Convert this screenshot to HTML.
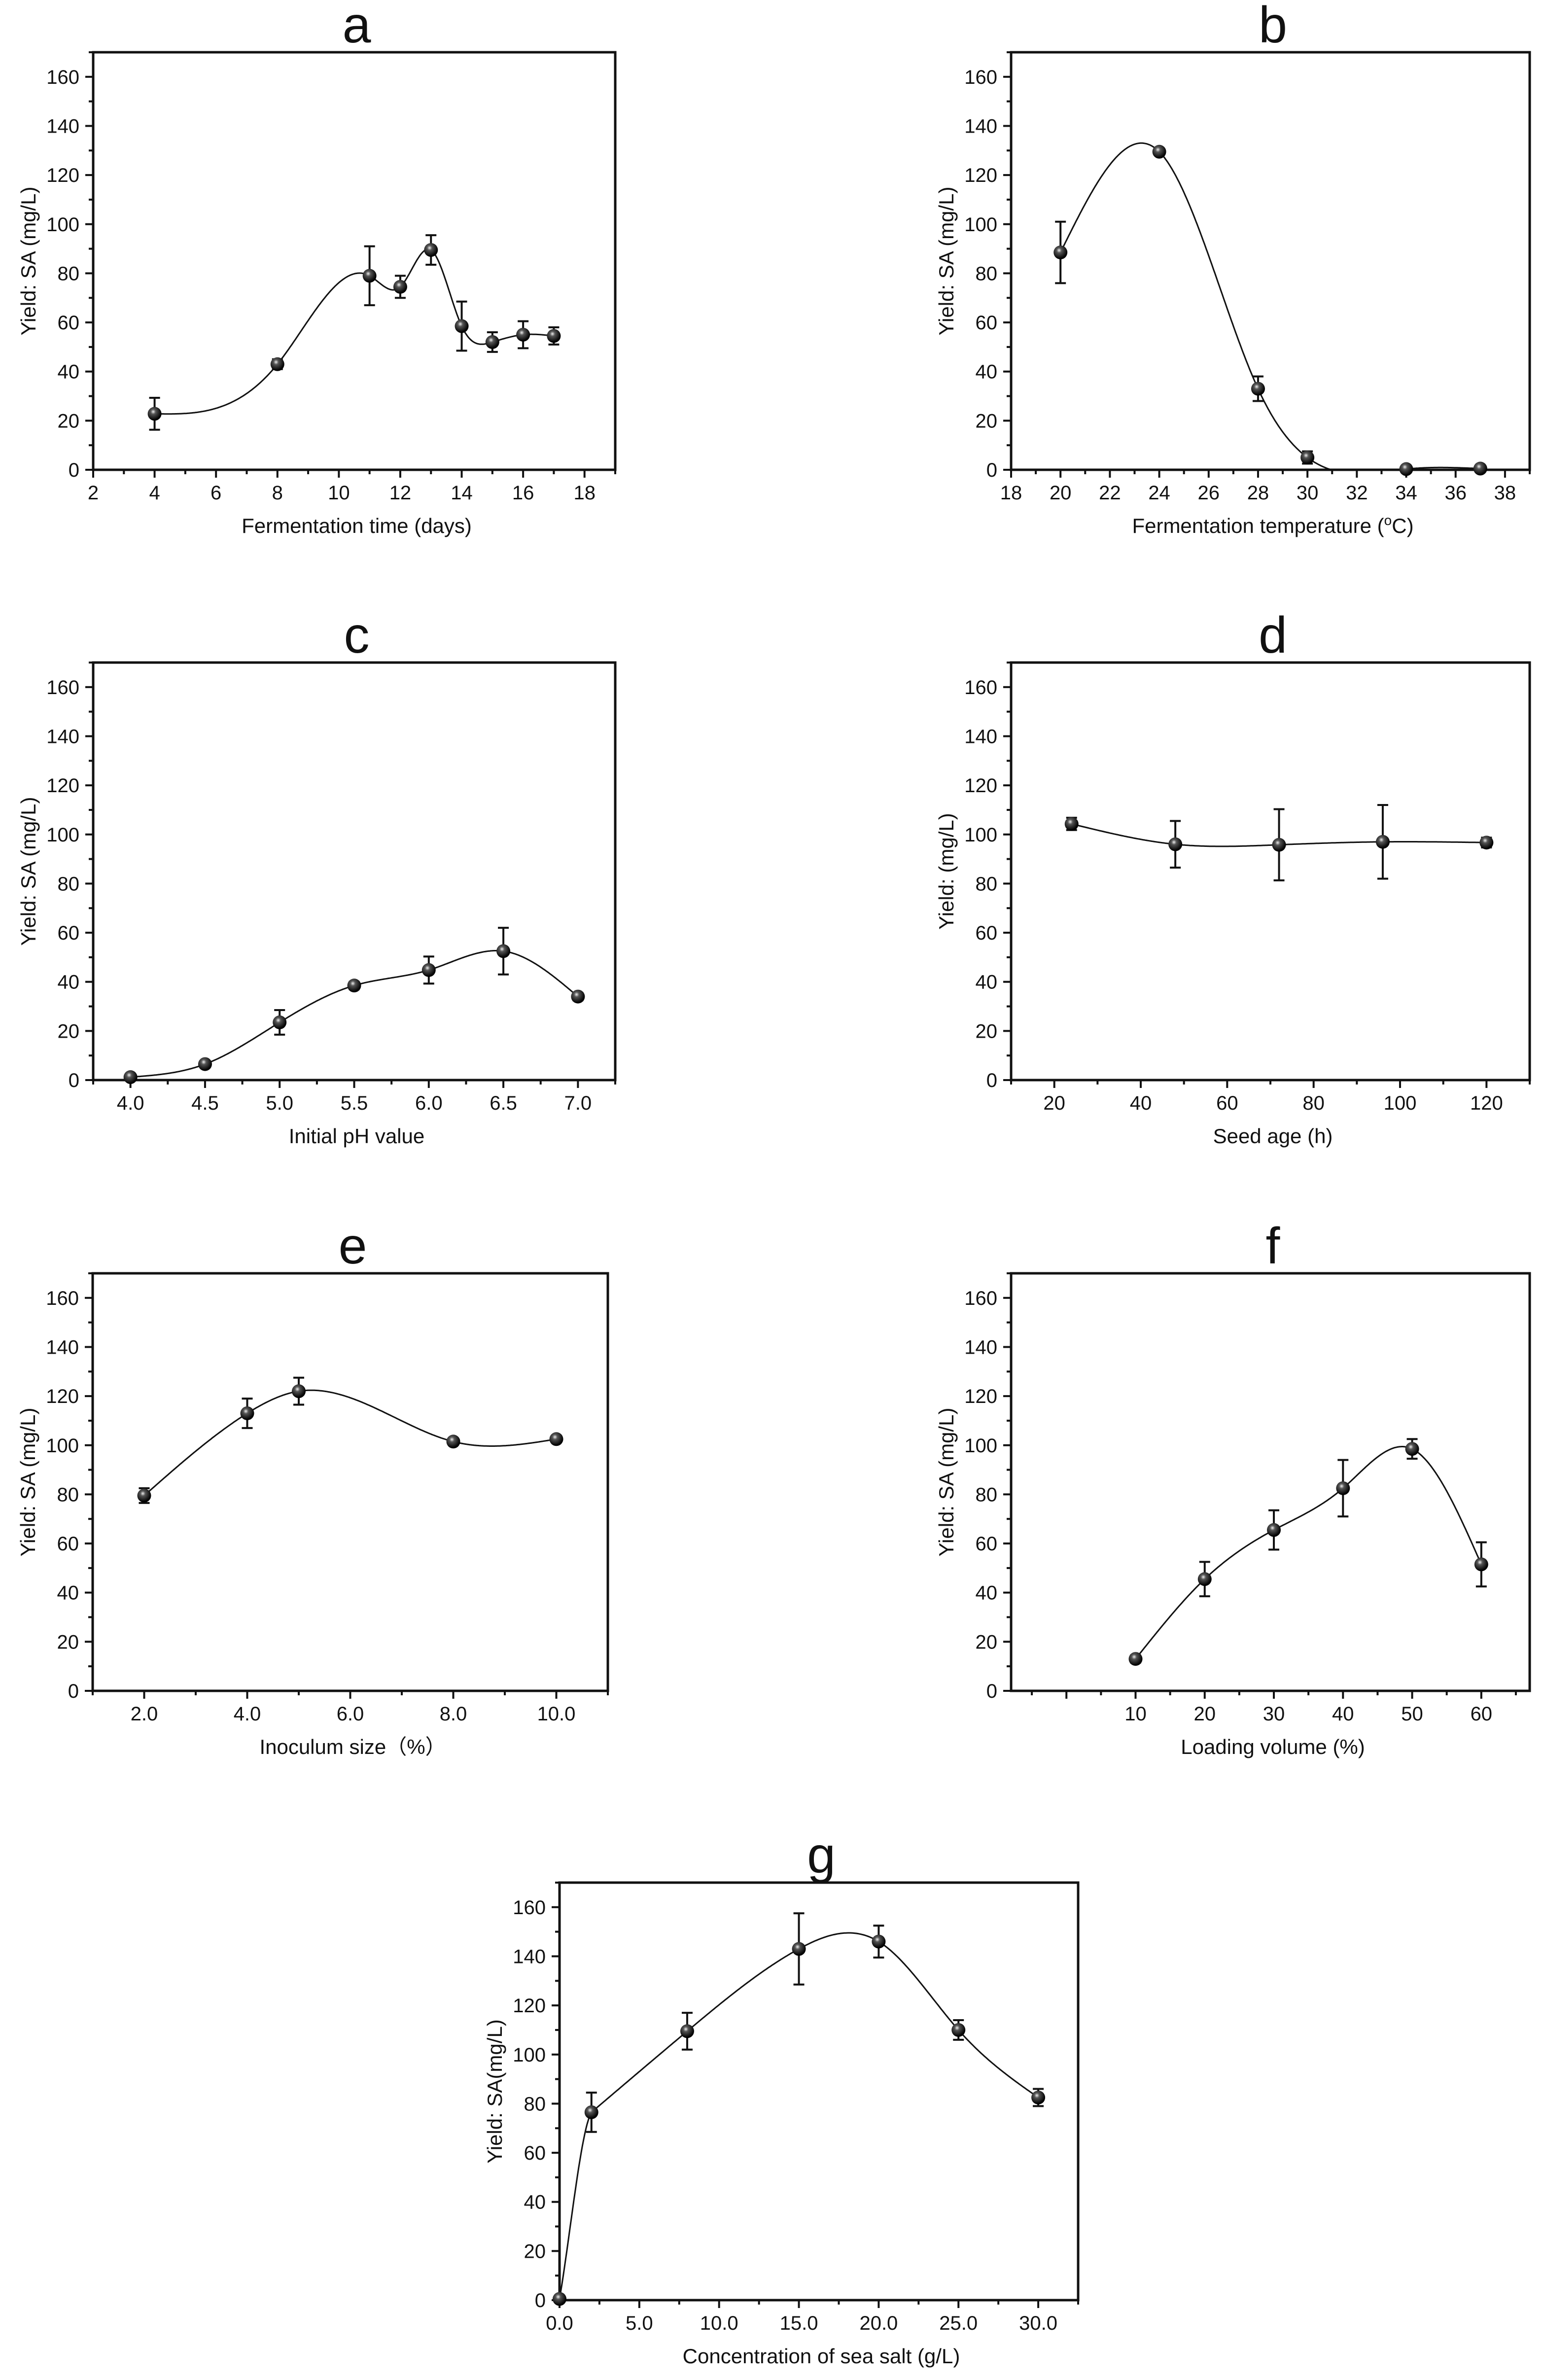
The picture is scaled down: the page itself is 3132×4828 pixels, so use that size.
<!DOCTYPE html>
<html><head><meta charset="utf-8"><style>
html,body{margin:0;padding:0;background:#fff}
svg{display:block}
text{font-family:"Liberation Sans",Arial,sans-serif;fill:#111}
</style></head><body>
<svg id="fig" width="3132" height="4828" viewBox="0 0 3132 4828" xmlns="http://www.w3.org/2000/svg">
<defs>
<radialGradient id="ball" cx="0.4" cy="0.35" r="0.6">
<stop offset="0" stop-color="#eee"/><stop offset="0.3" stop-color="#555"/><stop offset="1" stop-color="#000"/>
</radialGradient>
</defs>
</svg>
<script>
// Panel a
const aX=[4,8,11,12,13,14,15,16,17];
const aY=[22.8,43,79,74.5,89.5,58.5,52,55,54.5];
const aE=[6.5,2,12,4.5,6,10,4,5.5,3.5];
const aTicks=[2,4,6,8,10,12,14,16,18];
// Panel b
const bX=[20,24,28,30,34,37];
const bY=[88.5,129.5,33,5,0.3,0.5];
const bE=[12.5,1,5,2.5,0.5,1];
const bTicks=[18,20,22,24,26,28,30,32,34,36,38];
// Panel c
const cX=[4,4.5,5,5.5,6,6.5,7];
const cY=[1.2,6.5,23.5,38.5,44.8,52.5,34];
const cE=[0.5,1,5,1.5,5.5,9.5,1.5];
const cTicks=["4.0","4.5","5.0","5.5","6.0","6.5","7.0"];
// Panel d
const dX=[24,48,72,96,120];
const dY=[104.3,96,95.8,97,96.7];
const dE=[2.5,9.5,14.5,15,2];
const dTicks=[20,40,60,80,100,120];
// Panel e
const eX=[2,4,5,8,10];
const eY=[79.5,113,122,101.5,102.5];
const eE=[3,6,5.5,1,1];
const eTicks=["2.0","4.0","6.0","8.0","10.0"];
// Panel f
const fX=[10,20,30,40,50,60];
const fY=[13,45.5,65.5,82.5,98.5,51.5];
const fE=[1.5,7,8,11.5,4,9];
const fTicks=[10,20,30,40,50,60];
// Panel g
const gX=[0,2,8,15,20,25,30];
const gY=[0.5,76.5,109.5,143,146,110,82.5];
const gE=[0,8,7.5,14.5,6.5,4,3.5];
const gTicks=["0.0","5.0","10.0","15.0","20.0","25.0","30.0"];
const yTicks=[0,20,40,60,80,100,120,140,160];

const NS="http://www.w3.org/2000/svg";
const svg=document.getElementById('fig');
function mk(tag,attrs,parent){const e=document.createElementNS(NS,tag);for(const k in attrs)e.setAttribute(k,attrs[k]);(parent||svg).appendChild(e);return e;}

function spline(xs,ys){
  const n=xs.length,h=[],al=[],l=[1],mu=[0],z=[0],c=new Array(n).fill(0),b=[],d=[];
  for(let i=0;i<n-1;i++)h.push(xs[i+1]-xs[i]);
  for(let i=1;i<n-1;i++)al[i]=3/h[i]*(ys[i+1]-ys[i])-3/h[i-1]*(ys[i]-ys[i-1]);
  for(let i=1;i<n-1;i++){l[i]=2*(xs[i+1]-xs[i-1])-h[i-1]*mu[i-1];mu[i]=h[i]/l[i];z[i]=(al[i]-h[i-1]*z[i-1])/l[i];}
  for(let j=n-2;j>=0;j--){c[j]=(j>0?z[j]-mu[j]*c[j+1]:0);b[j]=(ys[j+1]-ys[j])/h[j]-h[j]*(c[j+1]+2*c[j])/3;d[j]=(c[j+1]-c[j])/(3*h[j]);}
  return x=>{let i=0;while(i<n-2&&x>xs[i+1])i++;const t=x-xs[i];return ys[i]+b[i]*t+c[i]*t*t+d[i]*t*t*t;};
}
function monotone(xs,ys){
  const n=xs.length,dl=[],m=[];
  for(let i=0;i<n-1;i++)dl.push((ys[i+1]-ys[i])/(xs[i+1]-xs[i]));
  m[0]=dl[0];m[n-1]=dl[n-2];
  for(let i=1;i<n-1;i++){
    if(dl[i-1]*dl[i]<=0)m[i]=0;
    else{const w1=2*(xs[i+1]-xs[i])+(xs[i]-xs[i-1]),w2=(xs[i+1]-xs[i])+2*(xs[i]-xs[i-1]);m[i]=(w1+w2)/(w1/dl[i-1]+w2/dl[i]);}
  }
  return x=>{let i=0;while(i<n-2&&x>xs[i+1])i++;const h=xs[i+1]-xs[i],t=(x-xs[i])/h;
    const h00=2*t*t*t-3*t*t+1,h10=t*t*t-2*t*t+t,h01=-2*t*t*t+3*t*t,h11=t*t*t-t*t;
    return h00*ys[i]+h10*h*m[i]+h01*ys[i+1]+h11*h*m[i+1];};
}
function hybrid(xs,ys){
  const mo=monotone(xs,ys),sp=spline(xs.slice(1),ys.slice(1));
  return x=>x<xs[1]?mo(x):sp(x);
}

function panel(o){
  const g=mk('g',{});
  
  
  const L=o.L,R=o.R,T=o.T,B=o.B;
  const sx=v=>L+(v-o.x0)/(o.x1-o.x0)*(R-L);
  const sy=v=>B-v/170*(B-T);
  const ttl=mk('text',{x:(L+R)/2+5,y:T-20,'font-size':104,'text-anchor':'middle'},g);
  ttl.textContent=o.id;
  
  
  const fr=mk('rect',{x:L,y:T,width:R-L,height:B-T,fill:'none',stroke:'#111','stroke-width':5},g);
  
  
  for(let v=0;v<=170;v+=10){
    const major=v%20===0;
    mk('line',{x1:L,x2:L-(major?16:9),y1:sy(v),y2:sy(v),stroke:'#111','stroke-width':4},g);
  }
  yTicks.forEach(v=>{
    const t=mk('text',{x:L-28,y:sy(v)+14,'font-size':40,'text-anchor':'end'},g);
    t.textContent=v;
    
    
  });
  for(let v=o.mstart;v<=o.x1+1e-9;v+=o.minor){
    if(v<o.x0-1e-9)continue;
    const major=Math.abs(((v-o.tstart)/o.step)-Math.round((v-o.tstart)/o.step))<1e-6;
    mk('line',{x1:sx(v),x2:sx(v),y1:B,y2:B+(major?16:9),stroke:'#111','stroke-width':4},g);
  }
  o.ticks.forEach(lbl=>{
    const t=mk('text',{x:sx(parseFloat(lbl)),y:B+60,'font-size':40,'text-anchor':'middle'},g);
    t.textContent=lbl;
    
    
  });
  const xt=mk('text',{x:(L+R)/2+5,y:B+128,'font-size':42,'text-anchor':'middle'},g);
  xt.innerHTML=o.xtitle;
  
  
  const yt=mk('text',{x:0,y:0,'font-size':42,'text-anchor':'middle',transform:`translate(${L-117},${(T+B)/2}) rotate(-90)`},g);
  yt.textContent=o.ytitle;
  
  
  const f=o.mono?hybrid(o.xs,o.ys):spline(o.xs,o.ys);
  let d='';
  const xa=o.xs[0],xb=o.xs[o.xs.length-1];
  for(let i=0;i<=400;i++){const x=xa+(xb-xa)*i/400;let y=f(x);if(y<0)y=0;d+=(i?'L':'M')+sx(x).toFixed(1)+','+sy(y).toFixed(1);}
  const cv=mk('path',{d:d,fill:'none',stroke:'#111','stroke-width':3},g);
  
  
  o.xs.forEach((x,i)=>{
    const px=sx(x),e=o.es[i];
    if(e>0){
      const eb=mk('path',{d:`M${px},${sy(o.ys[i]+e)}V${sy(o.ys[i]-e)}M${px-11},${sy(o.ys[i]+e)}H${px+11}M${px-11},${sy(o.ys[i]-e)}H${px+11}`,stroke:'#111','stroke-width':4,fill:'none'},g);
      
      
    }
    const c=mk('circle',{cx:px,cy:sy(o.ys[i]),r:14,fill:'url(#ball)'},g);
    
    
  });
}
const LL=189,LR=1248,RL=2051,RR=3103;
const rows=[[106,953],[1344,2191],[2583,3430]];
const YS='Yield: SA (mg/L)';
panel({id:'a',L:LL,R:LR,T:rows[0][0],B:rows[0][1],x0:2,x1:19,tstart:2,step:2,mstart:2,minor:1,ticks:aTicks.map(String),xs:aX,ys:aY,es:aE,xtitle:'Fermentation time (days)',ytitle:YS});
panel({id:'b',L:RL,R:RR,T:rows[0][0],B:rows[0][1],x0:18,x1:39,tstart:18,step:2,mstart:18,minor:1,ticks:bTicks.map(String),xs:bX,ys:bY,es:bE,xtitle:'Fermentation temperature (<tspan font-size="28" dy="-16">o</tspan><tspan dy="16">C)</tspan>',ytitle:YS});
panel({id:'c',L:LL,R:LR,T:rows[1][0],B:rows[1][1],x0:3.75,x1:7.25,tstart:4,step:0.5,mstart:3.75,minor:0.25,ticks:cTicks,xs:cX,ys:cY,es:cE,xtitle:'Initial pH value',ytitle:YS});
panel({id:'d',L:RL,R:RR,T:rows[1][0],B:rows[1][1],x0:10,x1:130,tstart:20,step:20,mstart:10,minor:10,ticks:dTicks.map(String),xs:dX,ys:dY,es:dE,xtitle:'Seed age (h)',ytitle:'Yield: (mg/L)'});
panel({id:'e',L:188,R:1233,T:rows[2][0],B:rows[2][1],x0:1,x1:11,tstart:2,step:2,mstart:1,minor:1,ticks:eTicks,xs:eX,ys:eY,es:eE,xtitle:'Inoculum size（%）',ytitle:YS});
panel({id:'f',L:RL,R:RR,T:rows[2][0],B:rows[2][1],x0:-8,x1:67,tstart:10,step:10,mstart:-5,minor:5,ticks:fTicks.map(String),xs:fX,ys:fY,es:fE,xtitle:'Loading volume (%)',ytitle:YS});
panel({id:'g',L:1135,R:2187,T:3819,B:4666,x0:0,x1:32.5,tstart:0,step:5,mstart:0,minor:2.5,ticks:gTicks,xs:gX,ys:gY,es:gE,mono:true,xtitle:'Concentration of sea salt (g/L)',ytitle:'Yield: SA(mg/L)'});
</script>
</body></html>
